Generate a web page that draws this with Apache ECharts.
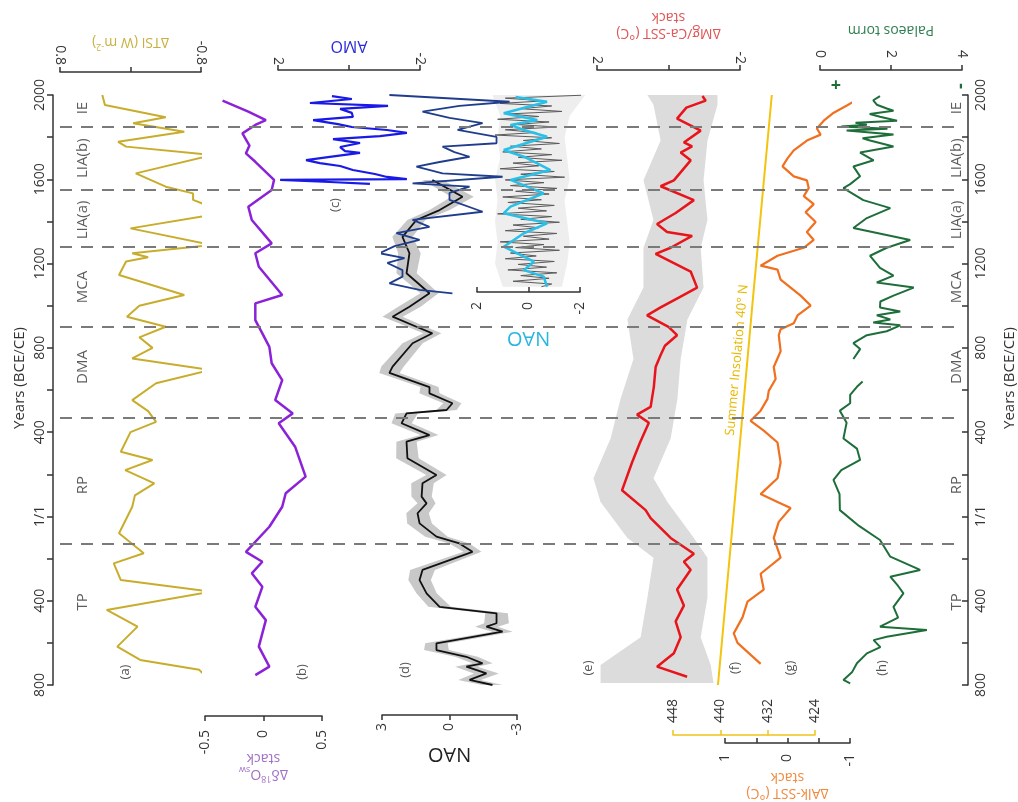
<!DOCTYPE html>
<html><head><meta charset="utf-8">
<script src="https://cdn.jsdelivr.net/npm/echarts@6/dist/echarts.min.js"></script>
<style>html,body{margin:0;padding:0;background:#fff}#c{width:1018px;height:802px}</style>
</head><body><div id="c"></div>
<script>
// ---------------- DATA ([year, value]) ----------------
const yearTicks = [2000, 1600, 1200, 800, 400, 0, -400, -800];
const boundaries = [1850, 1550, 1280, 900, 470, -130];
const periods = [['IE',1938],['LIA(b)',1700],['LIA(a)',1407],['MCA',1089],['DMA',709],['RP',149],['TP',-406]];

const tsi = [[2000,0.32],[1953,0.29],[1894,-0.40],[1866,-0.03],[1826,-0.61],[1778,0.14],[1755,0.05],[1715,-0.93],[1628,-0.06],[1565,-0.40],[1533,-0.71],[1502,-0.71],[1470,-0.91],[1430,-0.91],[1367,0.00],[1288,-0.93],[1249,-0.02],[1230,-0.2],[1210,0.05],[1146,0.13],[1051,-0.61],[1000,-0.1],[948,0.04],[900,-0.40],[850,-0.1],[800,-0.25],[750,-0.02],[695,-0.90],[632,-0.29],[552,-0.02],[500,-0.2],[449,-0.29],[400,0.0],[307,0.11],[268,-0.25],[220,0.06],[157,-0.27],[100,-0.05],[46,-0.02],[-80,0.13],[-175,-0.15],[-223,0.19],[-302,0.11],[-357,-0.91],[-444,0.27],[-523,-0.08],[-618,0.15],[-681,-0.11],[-728,-0.78],[-792,-0.93]];

const d18o = [[1973,-0.35],[1921,-0.13],[1881,0.02],[1858,-0.07],[1818,-0.18],[1760,-0.12],[1723,-0.15],[1683,-0.07],[1597,0.09],[1549,0.07],[1470,-0.13],[1407,-0.10],[1296,0.07],[1249,-0.07],[1185,-0.04],[1051,0.16],[1011,-0.07],[932,-0.07],[869,-0.01],[805,0.05],[727,0.07],[647,0.16],[552,0.10],[489,0.25],[442,0.13],[331,0.27],[189,0.36],[110,0.19],[46,0.16],[-49,0.05],[-168,-0.15],[-215,-0.01],[-270,-0.10],[-334,-0.01],[-429,-0.07],[-492,0.02],[-618,-0.04],[-713,0.05],[-753,-0.07]];

const amo = [[1995,0.48],[1981,-0.08],[1962,1.10],[1948,-1.10],[1934,0.25],[1915,-0.08],[1896,-0.11],[1881,1.01],[1862,0.31],[1848,-0.08],[1834,-1.07],[1820,-1.63],[1805,-0.87],[1791,0.45],[1772,-0.31],[1753,0.25],[1734,0.11],[1725,-0.31],[1706,0.54],[1691,1.21],[1677,0.82],[1663,0.25],[1644,-0.11],[1625,-0.73],[1611,-1.07],[1601,-1.63],[1597,1.94],[1587,0.54],[1578,-0.59]];

const naoNavy = [[2000,2.67],[1968,-2.67],[1948,-0.44],[1921,1.2],[1891,0],[1867,-1.47],[1834,-0.36],[1801,-2.09],[1771,-2.09],[1755,0.31],[1729,-0.22],[1707,-0.89],[1682,0.44],[1660,1.47],[1628,0.31],[1612,-2.36],[1581,1.64],[1565,-0.89],[1535,0],[1502,0],[1446,-1.47],[1407,1.64],[1374,0.89],[1344,2.36],[1312,1.33],[1283,2.44],[1249,3.11],[1226,2.0],[1203,2.76],[1169,2.09],[1138,2.09],[1106,2.67],[1075,1.33],[1059,-0.13]];

const naoBlack = [[1597,0.76],[1517,-0.58],[1454,0.44],[1407,1.47],[1327,2.09],[1249,1.78],[1154,1.91],[1059,0.89],[995,1.78],[948,2.53],[900,1.47],[869,0.76],[822,1.64],[711,2.53],[681,2.67],[614,0.89],[584,0.89],[537,-0.13],[505,0.13],[489,1.91],[442,2.13],[386,0.89],[355,1.91],[276,1.87],[197,0.58],[157,1.2],[94,1.24],[62,1.02],[15,1.42],[-33,1.33],[-96,0.58],[-128,-0.44],[-168,-1.02],[-254,1.2],[-302,1.33],[-365,1.02],[-429,0.44],[-460,-2.09],[-507,-2.09],[-523,-1.64],[-547,-2.36],[-602,0.58],[-634,0.58],[-666,-0.75],[-697,-1.47],[-713,-0.75],[-745,-1.64],[-776,-0.89],[-800,-1.91]];
const naoBlackBand = [0.45,0.5,0.45,0.4,0.45,0.5,0.45,0.4,0.5,0.45,0.4,0.4,0.45,0.5,0.45,0.4,0.45,0.4,0.45,0.5,0.45,0.4,0.45,0.5,0.45,0.5,0.45,0.4,0.5,0.55,0.5,0.45,0.4,0.55,0.5,0.45,0.5,0.5,0.55,0.5,0.45,0.5,0.55,0.5,0.45,0.5,0.55,0.5,0.45];

const naoInsetCyan = [[1990,0.5],[1968,-0.72],[1913,0.96],[1881,-0.34],[1858,0.70],[1834,0.18],[1802,-0.72],[1739,0.96],[1707,0.18],[1676,-0.34],[1644,-0.85],[1597,0.70],[1533,-0.59],[1470,0.70],[1439,0.96],[1391,-0.72],[1344,0.18],[1280,0.96],[1209,-0.21],[1169,0.18],[1138,-0.59],[1090,-0.72]];
const naoInsetGrey = [[2000,-2.3],[1985,0.9],[1972,-0.6],[1960,1.1],[1948,-0.9],[1935,0.3],[1922,-1.3],[1910,0.8],[1898,-0.4],[1885,1.2],[1872,-0.8],[1860,0.5],[1848,-1.1],[1835,0.9],[1822,-0.3],[1810,1.3],[1797,-0.9],[1784,0.2],[1770,-1.2],[1757,0.7],[1744,-0.5],[1730,1.0],[1717,-0.9],[1704,0.4],[1690,-1.3],[1677,0.6],[1664,-0.4],[1650,1.1],[1637,-1.0],[1624,0.3],[1610,-1.4],[1597,0.9],[1584,-0.6],[1570,0.7],[1557,-1.1],[1543,0.5],[1530,-0.8],[1516,1.0],[1503,-0.5],[1490,0.8],[1476,-1.0],[1463,0.4],[1450,-0.7],[1436,1.2],[1423,-0.9],[1410,0.3],[1396,-1.2],[1383,0.6],[1370,-0.4],[1356,0.9],[1343,-1.1],[1330,0.2],[1316,-0.8],[1303,1.1],[1290,-0.6],[1276,0.5],[1263,-1.2],[1250,0.7],[1236,-0.3],[1223,0.9],[1210,-1.0],[1196,0.4],[1183,-0.7],[1170,0.8],[1156,-1.1],[1143,0.3],[1130,-0.8],[1116,0.6],[1103,-0.9],[1090,-0.5]];
const naoInsetBand = [[2000,-2.2,1.4],[1900,-1.6,1.1],[1800,-1.4,1.2],[1700,-1.5,1.1],[1600,-1.6,1.3],[1500,-1.4,1.2],[1400,-1.5,1.3],[1300,-1.6,1.2],[1200,-1.5,1.3],[1090,-1.3,1.0]];

const mgca = [[1995,-0.95],[1973,-1.04],[1940,-0.5],[1888,-0.24],[1831,-0.90],[1775,-0.43],[1756,-0.66],[1727,-0.34],[1690,-0.62],[1595,-0.15],[1567,0.22],[1501,-0.71],[1440,-0.2],[1388,0.32],[1350,0.04],[1331,-0.66],[1275,-0.06],[1246,0.36],[1162,-0.62],[1086,-0.80],[1040,-0.3],[992,0.22],[954,0.60],[900,0.0],[860,-0.24],[810,0.1],[766,0.22],[709,0.36],[615,0.41],[520,0.50],[483,0.88],[445,0.55],[350,0.8],[256,1.02],[124,1.30],[30,0.64],[-8,0.50],[-102,-0.06],[-177,-0.71],[-215,-0.43],[-253,-0.62],[-347,-0.24],[-423,-0.43],[-498,-0.20],[-573,-0.34],[-649,-0.15],[-713,0.32],[-761,-0.52]];
const mgcaBand = [[2000,-1.37,0.59],[1954,-1.37,0.42],[1784,-1.09,0.22],[1595,-0.98,0.70],[1407,-1.09,0.42],[1275,-0.90,0.70],[1086,-0.98,0.70],[935,-0.53,1.15],[747,-0.34,0.98],[558,-0.25,1.34],[370,-0.06,1.62],[181,0.42,2.1],[68,0.03,1.9],[-102,-0.71,1.15],[-196,-1.09,0.42],[-385,-1.09,0.59],[-573,-0.90,0.78],[-705,-1.18,1.9],[-790,-1.26,1.9]];

const insolation = [[-800,440.4],[0,437.8],[1000,434.6],[2000,431.3]];

const alk = [[1991,-1.19],[1950,-0.95],[1916,-0.74],[1878,-0.58],[1841,-0.47],[1812,-0.53],[1784,-0.31],[1737,-0.10],[1699,0.0],[1661,0.08],[1614,-0.10],[1595,-0.31],[1558,-0.34],[1520,-0.26],[1482,-0.42],[1444,-0.29],[1397,-0.45],[1350,-0.31],[1312,-0.42],[1275,-0.26],[1237,0.16],[1190,0.43],[1171,0.16],[1124,0.11],[1086,-0.05],[1048,-0.21],[1001,-0.37],[954,-0.16],[917,-0.10],[888,0.11],[860,0.14],[784,0.11],[709,0.22],[652,0.19],[596,0.30],[558,0.32],[502,0.43],[454,0.59],[407,0.38],[351,0.16],[256,0.11],[181,0.16],[106,0.43],[68,0.16],[40,-0.05],[-26,0.14],[-102,0.22],[-196,0.11],[-272,0.43],[-347,0.38],[-404,0.64],[-479,0.72],[-555,0.86],[-600,0.80],[-700,0.43]];

const stormUpper = [[1995,1.69],[1975,1.5],[1954,1.60],[1935,1.9],[1925,2.07],[1910,1.4],[1897,1.69],[1878,2.17],[1868,1.0],[1859,1.32],[1850,0.6],[1840,1.9],[1831,0.75],[1812,2.07],[1795,1.2],[1784,1.41],[1756,2.07],[1727,1.13],[1690,1.51],[1661,0.94],[1614,1.13],[1577,0.85],[1558,0.66],[1501,1.22],[1463,1.98],[1416,1.32],[1369,0.94],[1312,2.54],[1275,1.88],[1237,1.41],[1180,1.69],[1143,2.07],[1110,1.6],[1086,2.64],[1048,2.07],[1020,1.7],[992,1.69],[973,2.26],[955,1.6],[935,1.98],[920,1.5],[907,2.26],[879,1.88],[860,1.32],[822,0.94],[794,1.13],[747,0.94]];
const stormLower = [[640,1.2],[615,1.04],[577,0.85],[537,0.85],[502,0.56],[445,0.75],[370,0.66],[322,1.04],[268,1.13],[220,0.6],[173,0.38],[106,0.55],[30,0.56],[-45,1.1],[-112,1.69],[-191,1.98],[-254,2.82],[-286,1.98],[-330,2.2],[-365,2.35],[-429,2.07],[-480,2.2],[-523,1.69],[-539,3.01],[-571,1.88],[-587,1.51],[-620,1.7],[-650,1.32],[-697,1.04],[-740,0.9],[-776,0.66],[-792,0.85]];

// ---------------- LAYOUT ----------------
const FONT = '"Open Sans", "Liberation Sans", sans-serif';
const PT = 95, PH = 590, YMIN = -800, YMAX = 2000;
const C = {tsi:'#c8ad2d', d18o:'#8b22d8', amo:'#1a1ae6', navy:'#1f3d8c', black:'#111', cyan:'#29c0e8', red:'#e8141b', ins:'#f2c40f', alk:'#f07020', green:'#1e6e3a', axis:'#333'};
const YPX = (YMAX - YMIN) / PH; // years per pixel

const grids = [], xAxes = [], yAxes = [], series = [];
function addGrid(left, width, top, height) {
  grids.push({left, width, top: top ?? PT, height: height ?? PH, containLabel:false, outerBoundsMode:'none'});
  return grids.length - 1;
}

const G0 = addGrid(53, 915);
const yrFmt = v => (v % 400 !== 0) ? '' : (v === 0 ? '1/1' : String(Math.abs(v)));
xAxes.push({gridIndex:G0, type:'value', min:53, max:968, show:false});
function yearAxis(pos, inside) {
  return {gridIndex:G0, type:'value', position:pos, min:YMIN, max:YMAX, interval:200,
    axisLine:{show:true, lineStyle:{color:C.axis, width:1.5}},
    axisTick:{show:true, inside, length:6, lineStyle:{color:C.axis, width:1.5}},
    axisLabel:{rotate:90, formatter:yrFmt, fontSize:14, color:'#333', fontFamily:FONT, margin:6},
    splitLine:{show:false}};
}
yAxes.push(yearAxis('left', false));
yAxes.push(yearAxis('right', true));
const yIdx = {}; yIdx[G0] = 0;

function panel(left, width, ax) {
  const top = PT - (ax.extraTop || 0);
  const bottom = PT + PH + (ax.extraBottom || 0);
  const g = addGrid(left, width, top, bottom - top);
  const col = ax.lineColor || C.axis;
  xAxes.push({gridIndex:g, type:'value', position:ax.pos, min:ax.min, max:ax.max, interval:ax.interval, inverse:!!ax.inverse,
    axisLine:{show:true, onZero:false, lineStyle:{color:col, width:1.5}},
    axisTick:{show:true, inside:!!ax.tickInside, length:5, lineStyle:{color:col, width:1.5}},
    axisLabel:{rotate:90, inside:!!ax.labelInside, margin:ax.margin ?? 6, fontSize:14, color:'#333', fontFamily:FONT, formatter:ax.fmt},
    splitLine:{show:false},
    name:ax.name, nameLocation:'middle', nameGap:ax.nameGap, nameRotate:180, nameMoveOverlap:false,
    nameTextStyle:{color:ax.nameColor, fontSize:ax.nameSize||14, fontFamily:FONT, lineHeight:16,
      rich:{sup:{fontSize:9, verticalAlign:'bottom', color:ax.nameColor, padding:[0,0,8,0]}, sub:{fontSize:9, color:ax.nameColor, padding:[8,0,0,0]}}}});
  const ymax = YMAX + (ax.extraTop || 0) * YPX;
  const ymin = YMIN - (ax.extraBottom || 0) * YPX;
  yAxes.push({gridIndex:g, type:'value', min:ymin, max:ymax, show:false});
  yIdx[g] = yAxes.length - 1;
  return g;
}
function lineS(g, data, color, width, z) {
  return {type:'line', xAxisIndex:g, yAxisIndex:yIdx[g], data:data.map(d => [d[1], d[0]]), showSymbol:false, symbol:'none', clip:false,
    lineStyle:{color, width}, z:z||3, silent:true};
}
function bandS(g, pts, color, z) {
  return {type:'custom', xAxisIndex:g, yAxisIndex:yIdx[g], data:[[pts[0][1], pts[0][0]]], z:z||1, silent:true, clip:false,
    renderItem:(params, api) => {
      const a = pts.map(p => api.coord([p[1], p[0]]));
      const b = pts.slice().reverse().map(p => api.coord([p[2], p[0]]));
      return {type:'polygon', shape:{points:a.concat(b)}, style:{fill:color}};
    }};
}
const fmtHideZero = v => v === 0 ? '' : String(v);

const gA = panel(60, 141, {pos:'top', extraTop:23, min:-0.8, max:0.8, interval:0.8, inverse:true, fmt:fmtHideZero, margin:7,
  name:'ΔTSI (W m{sup|-2})', nameGap:22, nameColor:'#c8b040'});
series.push(lineS(gA, tsi, C.tsi, 2));
const gB = panel(205, 117, {pos:'bottom', extraBottom:31, min:-0.5, max:0.5, interval:0.5, fmt:v => String(v), margin:14,
  name:'Δδ{sup|18}O{sub|sw}\nstack', nameGap:34, nameColor:'#a070c8'});
series.push(lineS(gB, d18o, C.d18o, 2.5));
const gC = panel(278, 142, {pos:'top', extraTop:25, min:-2, max:2, interval:2, inverse:true, fmt:fmtHideZero, margin:5,
  name:'AMO', nameGap:16, nameColor:'#2a2ad8', nameSize:16});
series.push(lineS(gC, amo, C.amo, 2.2, 4));
const gD = panel(382, 135, {pos:'bottom', extraBottom:30, min:-3, max:3, interval:3, inverse:true, fmt:v => String(v), margin:8,
  name:'NAO', nameGap:31, nameColor:'#222', nameSize:20});
const naoBandPts = naoBlack.map((d, i) => [d[0], d[1] - naoBlackBand[i], d[1] + naoBlackBand[i]]);
series.push(bandS(gD, naoBandPts, '#c8c8c8', 1));
series.push(lineS(gD, naoBlack, C.black, 1.8, 3));
series.push(lineS(gD, naoNavy, C.navy, 1.8, 4));
const insetBottom = 292;
const gI = panel(477, 103, {pos:'bottom', extraBottom:insetBottom - (PT + PH), min:-2, max:2, interval:2, inverse:true, tickInside:true, fmt:v => String(v), margin:10,
  name:'NAO', nameGap:38, nameColor:'#29b6e0', nameSize:20});
series.push(bandS(gI, naoInsetBand, '#eeeeee', 1));
series.push(lineS(gI, naoInsetGrey, '#5a5a5a', 1, 2));
series.push(lineS(gI, naoInsetCyan, C.cyan, 2.5, 3));
const gE = panel(597, 143, {pos:'top', extraTop:25, min:-2, max:2, interval:2, inverse:true, fmt:fmtHideZero, margin:6,
  name:'ΔMg/Ca-SST (°C)\nstack', nameGap:29, nameColor:'#e05555'});
series.push(bandS(gE, mgcaBand, '#dcdcdc', 1));
series.push(lineS(gE, mgca, C.red, 2.5, 3));
const gF = panel(673, 142, {pos:'bottom', extraBottom:50, min:424, max:448, interval:8, inverse:true, tickInside:true, labelInside:true,
  lineColor:'#f0c419', fmt:v => String(v), margin:12});
series.push(lineS(gF, insolation, C.ins, 2, 2));
const gG = panel(725, 125, {pos:'bottom', extraBottom:58, min:-1, max:1, interval:0.5, inverse:true, tickInside:true,
  fmt:v => (v === 1 || v === 0 || v === -1) ? String(v) : '', margin:11,
  name:'ΔAlk-SST (°C)\nstack', nameGap:26, nameColor:'#f08a40'});
series.push(lineS(gG, alk, C.alk, 2.2, 3));
const gH = panel(820, 142, {pos:'top', extraTop:25, min:0, max:4, interval:2, fmt:v => String(v), margin:12,
  name:'Palaeos torm', nameGap:32, nameColor:'#2e7d4f'});
series.push(lineS(gH, stormUpper, C.green, 2, 3));
series.push(lineS(gH, stormLower, C.green, 2, 3));

const gDash = addGrid(60, 902);
xAxes.push({gridIndex:gDash, type:'value', min:0, max:1, show:false});
yAxes.push({gridIndex:gDash, type:'value', min:YMIN, max:YMAX, show:false});
yIdx[gDash] = yAxes.length - 1;
series.push({type:'line', xAxisIndex:gDash, yAxisIndex:yIdx[gDash], data:[[0, YMIN]], showSymbol:false, lineStyle:{opacity:0}, z:0, silent:true,
  markLine:{silent:true, symbol:['none','none'], label:{show:false}, animation:false,
    lineStyle:{type:[12,9], color:'#7a7a7a', width:2}, data:boundaries.map(b => ({yAxis:b}))}});

const periodStyle = {show:true, rotate:90, fontSize:15, color:'#333', fontFamily:FONT, formatter:p => p.data[2]};
series.push({type:'scatter', xAxisIndex:G0, yAxisIndex:0, symbolSize:0, silent:true, z:5,
  data:periods.map(p => [83, p[1], p[0]]).concat(periods.map(p => [957, p[1], p[0]])),
  label:Object.assign({position:'inside'}, periodStyle)});

function vtext(x, y, text, color, size, rot, bold) {
  return {type:'text', x, y, rotation:rot ?? Math.PI/2, silent:true,
    style:{text, fill:color, font:(bold ? 'bold ' : '') + (size||13) + 'px ' + FONT, align:'center', verticalAlign:'middle'}};
}
const graphics = [
  vtext(20, 378, 'Years (BCE/CE)', '#333', 15),
  vtext(1010, 378, 'Years (BCE/CE)', '#333', 15),
  vtext(125, 672, '(a)', '#555', 13),
  vtext(302, 672, '(b)', '#555', 13),
  vtext(335, 205, '(c)', '#555', 13),
  vtext(405, 670, '(d)', '#555', 13),
  vtext(588, 668, '(e)', '#555', 13),
  vtext(735, 668, '(f)', '#555', 13),
  vtext(790, 668, '(g)', '#555', 13),
  vtext(882, 668, '(h)', '#555', 13),
  vtext(737, 360, 'Summer Insolation 40° N', '#e8b800', 13, 1.48),
  vtext(836, 86, '+', C.green, 18, 0, true),
  vtext(961, 86, '-', C.green, 18, Math.PI/2, true)
];

const chart = echarts.init(document.getElementById('c'), null, {renderer:'canvas'});
chart.setOption({animation:false, backgroundColor:'#fff', grid:grids, xAxis:xAxes, yAxis:yAxes, series, graphic:graphics});
</script></body></html>
